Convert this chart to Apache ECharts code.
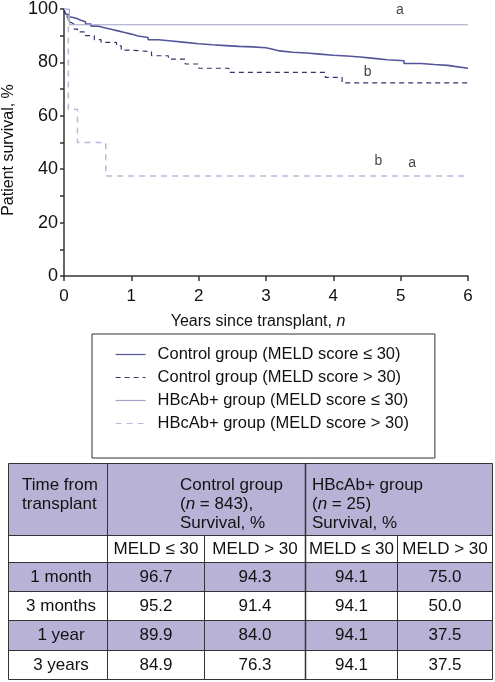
<!DOCTYPE html>
<html>
<head>
<meta charset="utf-8">
<script src="https://cdn.jsdelivr.net/npm/echarts@6/dist/echarts.min.js"></script>
<style>
html,body{margin:0;padding:0;background:#fff;}
#chart{width:495px;height:682px;}
</style>
</head>
<body>
<div id="chart"></div>
<script>
// ---- Kaplan-Meier curves (time in years, survival %) ----
const ctrlLowTime = [0,0.01,0.03,0.06,0.1,0.18,0.25,0.32,0.4,0.5,0.6,0.7,0.8,0.9,1.0,1.1,1.25,1.4,1.6,1.8,2.0,2.2,2.4,2.6,2.8,3.0,3.1,3.2,3.4,3.6,3.8,4.0,4.2,4.4,4.6,4.8,5.05,5.3,5.5,5.7,5.8,6.0];
const ctrlLowSurv = [100,99,98,97,96.5,95.8,95.2,94.4,93.6,93,92.4,91.8,91.2,90.6,89.9,89.3,88.5,88,87.5,87,86.6,86.3,86,85.8,85.5,84.9,84.3,83.8,83.5,83.1,82.7,82.4,82,81.5,81,80.6,79.6,79.2,78.9,78.5,77.8,77.8];
const ctrlHighTime = [0,0.02,0.06,0.1,0.15,0.2,0.3,0.45,0.55,0.78,0.85,1.0,1.3,1.55,1.8,2.0,2.45,3.88,4.13,6.0];
const ctrlHighSurv = [100,97,95,94.3,92.5,91.4,90,88.5,87.5,86.2,84.6,84.0,82.5,81.2,79.4,77.8,76.3,74.4,72.3,72.3];
const hbcLowTime = [0,0.08,6.0];
const hbcLowSurv = [100,94.1,94.1];
const hbcHighTime = [0,0.065,0.2,0.62,6.0];
const hbcHighSurv = [100,62.5,50,37.5,37.5];

const seriesNames = ['Control group (MELD score \u2264 30)','Control group (MELD score > 30)','HBcAb+ group (MELD score \u2264 30)','HBcAb+ group (MELD score > 30)'];

// annotation letters [time, survival, letter]
const notes = [[4.99,99.5,'a'],[4.51,76.3,'b'],[4.67,43.0,'b'],[5.17,42.1,'a']];

// axis ticks
const xTicks = [0,1,2,3,4,5,6];
const yTicks = [0,20,40,60,80,100];

// ---- table ----
const tableTimes = ['1 month','3 months','1 year','3 years'];
const tabCtrlLow = [96.7,95.2,89.9,84.9];
const tabCtrlHigh = [94.3,91.4,84.0,76.3];
const tabHbcLow = [94.1,94.1,94.1,94.1];
const tabHbcHigh = [75.0,50.0,37.5,37.5];
const subHeaders = ['MELD \u2264 30','MELD > 30','MELD \u2264 30','MELD > 30'];
const headTime = ['Time from','transplant'];
const headCtrl = ['Control group','({i|n} = 843),','Survival, %'];
const headHbc = ['HBcAb+ group','({i|n} = 25)','Survival, %'];

const pair = (t, s) => t.map((v, i) => [v, s[i]]);
const FONT = '"Liberation Sans", Arial, Helvetica, sans-serif';
const PURPLE = '#b8b3d6';
const EDGE = '#333';
const TFS = 17;

const chart = echarts.init(document.getElementById('chart'), null, {renderer: 'canvas'});

// table geometry
const colX = [8.5, 107.5, 204.5, 305.5, 397.5, 492.5];
const rowY = [463.5, 535.5, 562.5, 591.5, 620.5, 650.5, 679.5];
const g = [];
[0, 2, 4].forEach(r => {
  g.push({type:'rect', shape:{x:colX[0], y:rowY[r], width:colX[5]-colX[0], height:rowY[r+1]-rowY[r]}, style:{fill:PURPLE}, silent:true});
});
rowY.forEach(y => g.push({type:'line', shape:{x1:colX[0], y1:y, x2:colX[5], y2:y}, style:{stroke:EDGE, lineWidth:1}, silent:true}));
const vline = (x, y1, y2, w) => g.push({type:'line', shape:{x1:x, y1:y1, x2:x, y2:y2}, style:{stroke:EDGE, lineWidth:w}, silent:true});
vline(colX[0], rowY[0], rowY[6], 1);
vline(colX[5], rowY[0], rowY[6], 1);
vline(colX[1], rowY[0], rowY[6], 1);
vline(colX[3], rowY[0], rowY[6], 1.5);
vline(colX[2], rowY[1], rowY[6], 1);
vline(colX[4], rowY[1], rowY[6], 1);

const richI = {i:{fontStyle:'italic', fontSize:TFS, fontFamily:FONT, fill:'#111'}};
const txt = (s, x, y, align, fs) => ({type:'text', x:x, y:y, silent:true,
  style:{text:s, fill:'#111', font:(fs || TFS) + 'px ' + FONT, align:align, verticalAlign:'middle', textAlign:align, textVerticalAlign:'middle', rich: richI}});
headTime.forEach((s, i) => g.push(txt(s, 22, 485 + i * 19, 'left')));
headCtrl.forEach((s, i) => g.push(txt(s, 180, 485 + i * 19, 'left')));
headHbc.forEach((s, i) => g.push(txt(s, 312, 485 + i * 19, 'left')));
subHeaders.forEach((s, i) => g.push(txt(s, (colX[i+1] + colX[i+2]) / 2, (rowY[1] + rowY[2]) / 2, 'center')));
const cols = [tabCtrlLow, tabCtrlHigh, tabHbcLow, tabHbcHigh];
tableTimes.forEach((s, r) => {
  const cy = (rowY[r+2] + rowY[r+3]) / 2;
  g.push(txt(s, 61, cy, 'center'));
  cols.forEach((arr, c) => g.push(txt(arr[r].toFixed(1), (colX[c+1] + colX[c+2]) / 2, cy, 'center')));
});
// axis titles
g.push({type:'text', x:9, y:150, rotation:Math.PI/2, silent:true,
  style:{text:'Patient survival, %', fill:'#111', font:'16px ' + FONT, align:'center', verticalAlign:'middle', textAlign:'center', textVerticalAlign:'middle'}});
g.push({type:'text', x:258, y:322, silent:true,
  style:{text:'Years since transplant, {i|n}', fill:'#111', font:'16px ' + FONT, align:'center', verticalAlign:'middle', textAlign:'center', textVerticalAlign:'middle',
    rich:{i:{fontStyle:'italic', fontSize:16, fontFamily:FONT, fill:'#111'}}}});

const lineSeries = (name, t, s, color, width, type) => ({
  name: name, type: 'line', step: 'end', symbol: 'none', showSymbol: false,
  data: pair(t, s), animation: false,
  lineStyle: {color: color, width: width, type: type},
  itemStyle: {color: color}
});

const option = {
  backgroundColor: '#fff',
  animation: false,
  textStyle: {fontFamily: FONT},
  grid: {left: 64, right: 27, top: 6, bottom: 406, containLabel: false},
  xAxis: {
    type: 'value', min: 0, max: 6, interval: 1,
    axisLine: {show: true, lineStyle: {color: EDGE, width: 1.5}},
    axisTick: {show: true, length: 5, lineStyle: {color: EDGE, width: 1.5}},
    axisLabel: {color: '#111', fontSize: 17, margin: 12, fontFamily: FONT,
      formatter: v => xTicks.indexOf(v) >= 0 ? String(v) : ''},
    splitLine: {show: false}
  },
  yAxis: {
    type: 'value', min: 0, max: 100, interval: 20,
    axisLine: {show: true, lineStyle: {color: EDGE, width: 1.5}},
    axisTick: {show: true, length: 4, lineStyle: {color: EDGE, width: 1.5}},
    minorTick: {show: true, splitNumber: 2, length: 4, lineStyle: {color: EDGE, width: 1.5}},
    axisLabel: {color: '#111', fontSize: 18, margin: 6, fontFamily: FONT,
      formatter: v => yTicks.indexOf(v) >= 0 ? String(v) : ''},
    splitLine: {show: false}
  },
  legend: {
    orient: 'vertical', left: 92, top: 334,
    data: seriesNames,
    borderColor: EDGE, borderWidth: 1, borderRadius: 0,
    padding: [12, 26, 26, 23],
    itemWidth: 30, itemHeight: 14, itemGap: 6,
    itemStyle: {opacity: 0},
    lineStyle: {width: 1.2},
    textStyle: {color: '#111', fontSize: 16.5, fontFamily: FONT, padding: [0, 0, 0, 7]},
    selectedMode: false
  },
  series: [
    lineSeries(seriesNames[0], ctrlLowTime, ctrlLowSurv, '#55559a', 1.6, 'solid'),
    lineSeries(seriesNames[1], ctrlHighTime, ctrlHighSurv, '#35356e', 1.2, [5, 4]),
    lineSeries(seriesNames[2], hbcLowTime, hbcLowSurv, '#a3a3cc', 1.2, 'solid'),
    lineSeries(seriesNames[3], hbcHighTime, hbcHighSurv, '#b9b9dc', 1.5, [6, 5]),
    {
      name: 'notes', type: 'scatter', symbolSize: 0, animation: false, silent: true,
      data: notes.map(n => ({value: [n[0], n[1]], label: {formatter: n[2]}})),
      label: {show: true, position: 'inside', color: '#111', fontSize: 14, fontFamily: FONT}
    }
  ],
  graphic: g
};
chart.setOption(option);
</script>
</body>
</html>
